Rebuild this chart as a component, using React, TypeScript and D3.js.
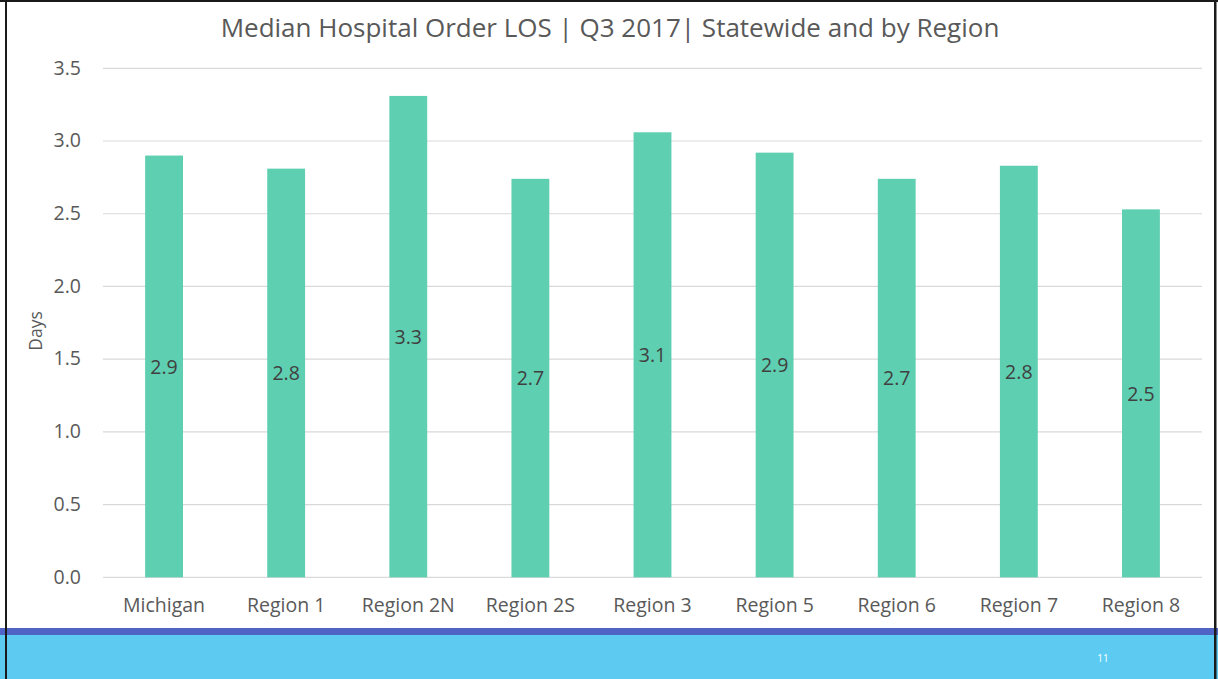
import React from "react";
import * as d3 from "d3";

const categories = ["Michigan", "Region 1", "Region 2N", "Region 2S", "Region 3", "Region 5", "Region 6", "Region 7", "Region 8"];
const values = [2.9, 2.81, 3.31, 2.74, 3.06, 2.92, 2.74, 2.83, 2.53];
const labels = ["2.9", "2.8", "3.3", "2.7", "3.1", "2.9", "2.7", "2.8", "2.5"];
const yTicks = [0, 0.5, 1.0, 1.5, 2.0, 2.5, 3.0, 3.5];

const W = 1218;
const H = 679;
const FONT = "'Open Sans', 'Noto Sans', sans-serif";

export default function App() {
  const left = 103;
  const right = 1202;
  const top = 68.3;
  const bottom = 577.3;
  const x = d3.scaleBand<string>().domain(categories).range([left, right]).paddingInner(0.69).paddingOuter(0.345);
  const y = d3.scaleLinear().domain([0, 3.5]).range([bottom, top]);

  return (
    <div style={{ position: "absolute", left: 0, top: 0, width: W, height: H }}>
      <svg width={W} height={H} style={{ display: "block", fontFamily: FONT }}>
        <rect x={0} y={0} width={W} height={H} fill="#ffffff" />
        <text x={610} y={30.5} textAnchor="middle" dominantBaseline="middle" fontSize={26} fill="#595959">
          Median Hospital Order LOS | Q3 2017| Statewide and by Region
        </text>
        {yTicks.map((t) => (
          <g key={t}>
            <line x1={left} x2={right} y1={y(t)} y2={y(t)} stroke="#d9d9d9" strokeWidth={1.2} />
            <text x={81} y={y(t) + 1} textAnchor="end" dominantBaseline="middle" fontSize={19.5} fill="#595959">
              {t.toFixed(1)}
            </text>
          </g>
        ))}
        <text transform={`translate(42, ${331}) rotate(-90)`} textAnchor="middle" fontSize={17.5} fill="#595959">
          Days
        </text>
        {categories.map((c, i) => {
          const bx = x(c)!;
          const bw = x.bandwidth();
          const by = y(values[i]);
          return (
            <g key={c}>
              <rect x={bx} y={by} width={bw} height={bottom - by} fill="#5ecfb1" />
              <text x={bx + bw / 2} y={(by + bottom) / 2 + 2} textAnchor="middle" dominantBaseline="middle" fontSize={19.5} fill="#404040">
                {labels[i]}
              </text>
              <text x={bx + bw / 2} y={607} textAnchor="middle" dominantBaseline="middle" fontSize={19.5} fill="#595959">
                {c}
              </text>
            </g>
          );
        })}
        <rect x={0} y={628} width={W} height={7} fill="#5064c6" />
        <rect x={0} y={635} width={W} height={H - 635} fill="#5dcbf1" />
        <text x={1103} y={659} textAnchor="middle" dominantBaseline="middle" fontSize={10} fill="#ffffff">
          11
        </text>
        <rect x={0} y={0} width={W} height={2} fill="#1a1a1a" />
        <rect x={5} y={0} width={2} height={H} fill="#1a1a1a" />
        <rect x={1214} y={0} width={2.5} height={H} fill="#1a1a1a" />
      </svg>
    </div>
  );
}
